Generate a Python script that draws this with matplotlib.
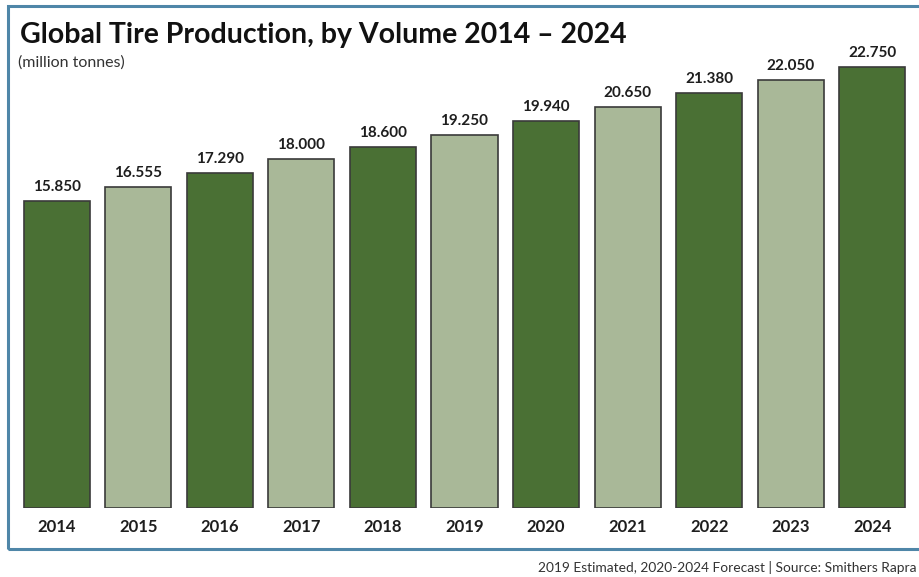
import matplotlib
matplotlib.use("Agg")
import matplotlib.pyplot as plt
import matplotlib.patches as patches

years = ["2014", "2015", "2016", "2017", "2018", "2019", "2020", "2021", "2022", "2023", "2024"]
volumes = [15.850, 16.555, 17.290, 18.000, 18.600, 19.250, 19.940, 20.650, 21.380, 22.050, 22.750]
value_labels = ["15.850", "16.555", "17.290", "18.000", "18.600", "19.250",
                "19.940", "20.650", "21.380", "22.050", "22.750"]

DARK = "#4a7034"
LIGHT = "#a9b898"
EDGE = "#3a3a3a"
FRAME = "#4f86a8"
TEXT = "#1e1e1e"

W, H = 920, 577
plt.rcParams["font.family"] = ["Lato", "DejaVu Sans"]

fig = plt.figure(figsize=(W / 100, H / 100), dpi=100, facecolor="white")
ax = fig.add_axes([16 / W, 1 - 508 / H, 897 / W, 465.6 / H])

colors = [DARK if i % 2 == 0 else LIGHT for i in range(len(years))]
x = list(range(len(years)))
ax.bar(x, volumes, width=0.81, color=colors, edgecolor=EDGE, linewidth=1.2)

for xi, v, lab in zip(x, volumes, value_labels):
    ax.annotate(lab, (xi, v), xytext=(0, 5), textcoords="offset points",
                ha="center", va="bottom", fontsize=11, fontweight="bold", color=TEXT)

ax.set_xlim(-0.5, len(years) - 0.5)
ax.set_ylim(0, 24)
ax.set_xticks(x)
ax.set_xticklabels(years, fontsize=12, fontweight="bold", color=TEXT)
ax.tick_params(axis="x", length=0, pad=8)
ax.set_yticks([])
for spine in ax.spines.values():
    spine.set_visible(False)

# outer frame (runs off the right edge like the original)
frame = patches.Rectangle((8 / W, 1 - 549 / H), 930 / W, 543 / H, transform=fig.transFigure,
                          fill=False, edgecolor=FRAME, linewidth=2.2, clip_on=False)
fig.add_artist(frame)

fig.text(20 / W, 1 - 43 / H, "Global Tire Production, by Volume 2014 \u2013 2024",
         fontsize=20.5, fontweight="bold", color="#111111", va="baseline", ha="left")
fig.text(18 / W, 1 - 67 / H, "(million tonnes)", fontsize=11.5, color="#333333",
         va="baseline", ha="left")
fig.text(917 / W, 1 - 572 / H, "2019 Estimated, 2020-2024 Forecast | Source: Smithers Rapra",
         fontsize=9.9, color="#333333", va="baseline", ha="right")

fig.savefig("out.png", dpi=100, facecolor="white")
